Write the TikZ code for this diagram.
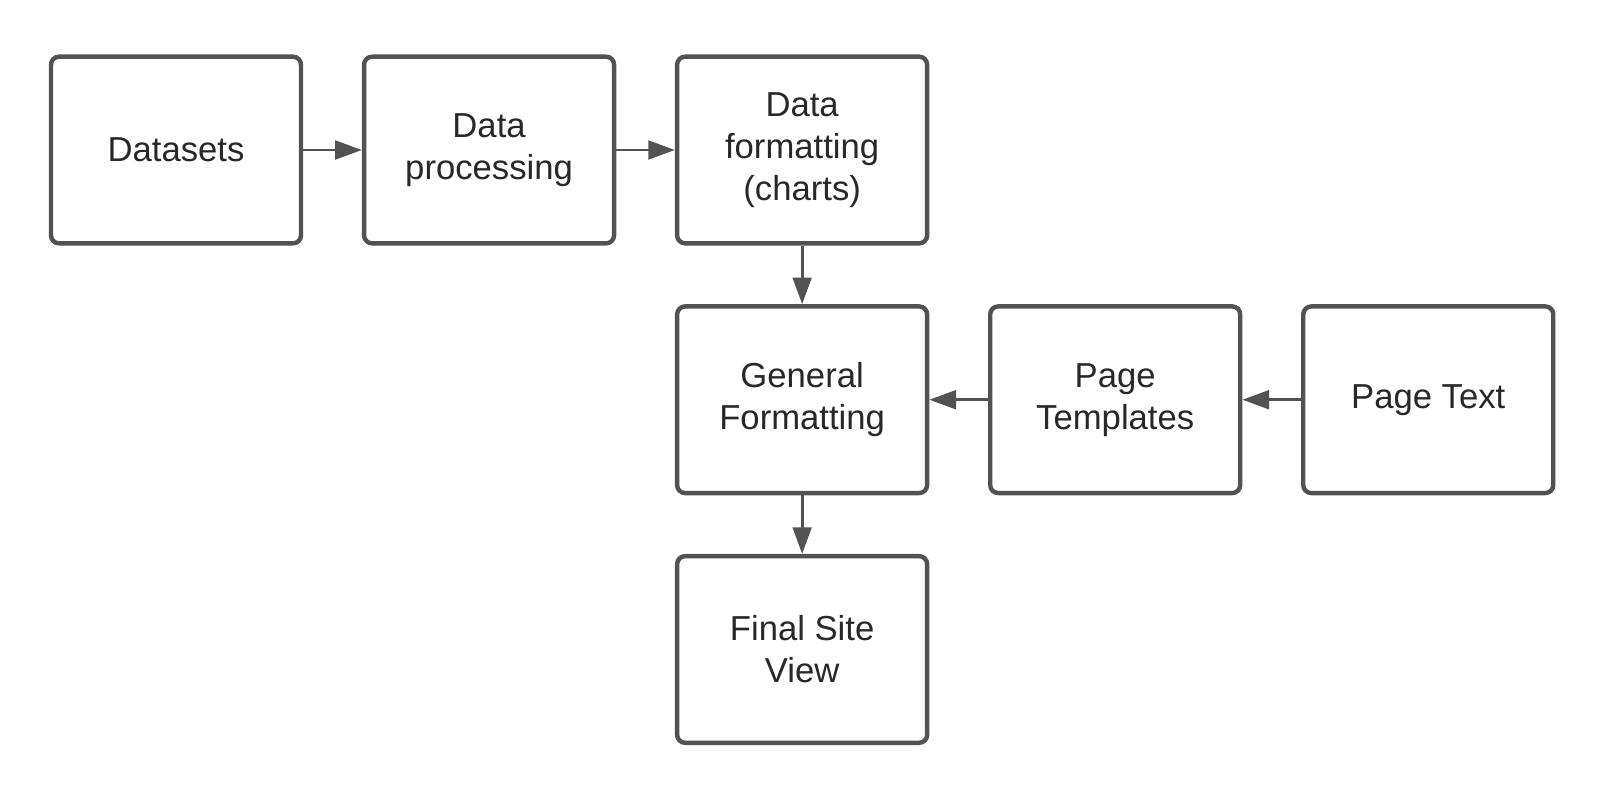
\documentclass[tikz,border=0pt]{standalone}
\usepackage{fontspec}
\setmainfont{Liberation Sans}
\usepackage{tikz}
\usetikzlibrary{arrows.meta, positioning}

\definecolor{linegray}{RGB}{82,82,82}
\definecolor{textgray}{RGB}{40,40,40}

\begin{document}
\begin{tikzpicture}[x=0.75pt,y=-0.75pt,node distance=44pt,
    >={Triangle[length=20pt,width=14pt]}]
				\tikzstyle{stage} = [draw=linegray, line width=3.3pt, rounded corners=6pt, fill=white,
				                     minimum width=187.5pt, minimum height=140pt, align=center,
				                     text=textgray, font=\fontsize{26}{31.5}\selectfont]
				\tikzstyle{link} = [->, draw=linegray, fill=linegray, line width=2.2pt]

				\useasboundingbox (0,0) rectangle (1606,800);

				\node[stage] (datasets) at (176,150) {Datasets};
				\node[stage] (processing) [right=of datasets] {Data\\processing};
				\node[stage] (charts) [right=of processing] {Data\\formatting\\(charts)};
				\node[stage] (general) [below=of charts] {General\\Formatting};
				\node[stage] (templates) [right=of general] {Page\\Templates};
				\node[stage] (pagetext) [right=of templates] {Page Text};
				\node[stage] (final) [below=of general] {Final Site\\View};

				\draw[link] (datasets) -- (processing);
				\draw[link] (processing) -- (charts);
				\draw[link] (charts) -- (general);
				\draw[link] (general) -- (final);
				\draw[link] (pagetext) -- (templates);
				\draw[link] (templates) -- (general);
			\end{tikzpicture}
\end{document}
